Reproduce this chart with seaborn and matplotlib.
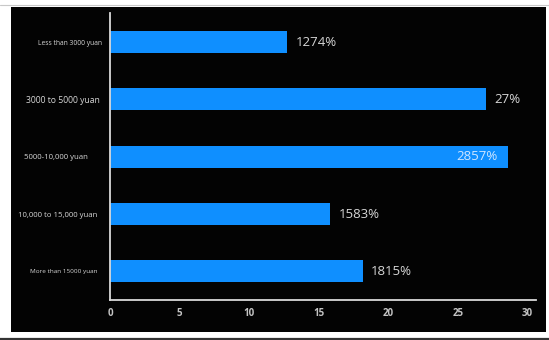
import matplotlib
matplotlib.use("Agg")
import matplotlib.pyplot as plt
import matplotlib.transforms as mtransforms
from matplotlib.patches import Rectangle
from matplotlib.lines import Line2D
import seaborn as sns
import pandas as pd

# Monthly income brackets and their share of respondents (%)
categories = [
    "Less than 3000 yuan",
    "3000 to 5000 yuan",
    "5000-10,000 yuan",
    "10,000 to 15,000 yuan",
    "More than 15000 yuan",
]
shares = [12.74, 27, 28.57, 15.83, 18.15]
x_ticks = [0, 5, 10, 15, 20, 25, 30]

# per-label styling of the category names
cat_font_sizes = [4.9, 6.2, 5.6, 5.6, 4.6]
cat_right_gap_px = [8, 10, 22, 13, 12]

BAR_BLUE = "#0f8fff"
TEXT_GREY = "#d6d6d6"

sns.set_theme(style="dark")
plt.rcParams["font.family"] = ["Open Sans", "DejaVu Sans"]

df = pd.DataFrame({"bracket": categories, "share": shares})

fig = plt.figure(figsize=(5.49, 3.40), dpi=100, facecolor="white")
W, H = 549, 340

# dark panel behind the chart plus the thin frame lines of the slide
fig.patches.append(Rectangle((11 / W, (H - 331.7) / H), (546 - 11) / W,
                             (331.7 - 6.7) / H, transform=fig.transFigure,
                             facecolor="#030303", edgecolor="none", zorder=-5))
fig.lines.append(Line2D([0, 1], [(H - 4.7) / H] * 2, transform=fig.transFigure,
                        color="#c8c8c8", lw=0.8, zorder=-5))
fig.lines.append(Line2D([0, 1], [(H - 339) / H] * 2, transform=fig.transFigure,
                        color="#333333", lw=1.6, zorder=-5))

ax = fig.add_axes([110 / W, (H - 300) / H, (536 - 110) / W, (300 - 13.4) / H])
ax.set_facecolor("none")

sns.barplot(data=df, x="share", y="bracket", orient="h", color=BAR_BLUE,
            saturation=1, width=0.38, linewidth=0, edgecolor="none", ax=ax)

ax.set_xlim(0, 30.6)
ax.set_ylim(4.5, -0.5)
ax.set_xticks(x_ticks)
ax.set_xticklabels([str(t) for t in x_ticks])
ax.set_xlabel("")
ax.set_ylabel("")
ax.grid(False)

for side in ("top", "right"):
    ax.spines[side].set_visible(False)
for side in ("left", "bottom"):
    ax.spines[side].set_visible(True)
    ax.spines[side].set_color("#d9d9d9")
    ax.spines[side].set_linewidth(1.3)

ax.tick_params(axis="x", length=0, pad=6, labelsize=7, labelcolor="#c4c4c4")
ax.tick_params(axis="y", length=0, pad=0, labelcolor=TEXT_GREY)
for lbl in ax.get_xticklabels():
    lbl.set_fontweight("bold")

for lbl, fs, gap in zip(ax.get_yticklabels(), cat_font_sizes, cat_right_gap_px):
    lbl.set_fontsize(fs)
    lbl.set_transform(lbl.get_transform() +
                      mtransforms.ScaledTranslation(-gap / 100, 0, fig.dpi_scale_trans))

# value labels: decimal point dropped, as printed on the slide
for patch, val in zip(ax.patches, shares):
    text = f"{val:g}".replace(".", "") + "%"
    end = patch.get_x() + patch.get_width()
    cy = patch.get_y() + patch.get_height() / 2
    if val > 28:
        ax.annotate(text, xy=(end, cy), xytext=(-7, 0), textcoords="offset points",
                    ha="right", va="center", fontsize=9.5, color="#cfe6ff")
    else:
        ax.annotate(text, xy=(end, cy), xytext=(6, 0), textcoords="offset points",
                    ha="left", va="center", fontsize=9.5, color=TEXT_GREY)

fig.savefig("out.png", dpi=100, facecolor="white")
